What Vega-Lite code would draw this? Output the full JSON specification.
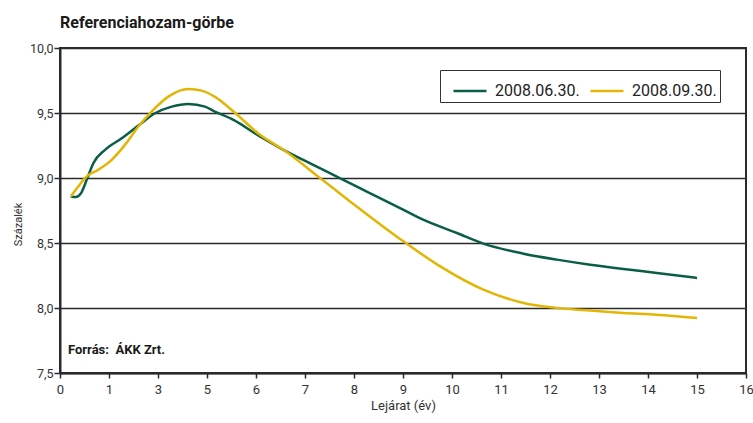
{
  "$schema": "https://vega.github.io/schema/vega-lite/v6.json",
  "width": 686,
  "height": 325,
  "autosize": {"type": "none"},
  "padding": {"left": 60, "top": 48, "right": 7, "bottom": 50},
  "background": "white",
  "config": {
    "font": "Roboto",
    "view": {"stroke": "#2b2b2b", "strokeWidth": 2}
  },
  "title": {
    "text": "Referenciahozam-görbe",
    "anchor": "start",
    "frame": "group",
    "font": "Roboto",
    "fontSize": 16,
    "fontWeight": "bold",
    "color": "#1a1a1a",
    "baseline": "alphabetic",
    "offset": -2
  },
  "layer": [
    {
      "data": {
        "values": [
          {"date": "2008.06.30.", "ev": 0.22, "hozam": 8.858},
          {"date": "2008.06.30.", "ev": 0.32, "hozam": 8.853},
          {"date": "2008.06.30.", "ev": 0.43, "hozam": 8.884},
          {"date": "2008.06.30.", "ev": 0.545, "hozam": 8.986},
          {"date": "2008.06.30.", "ev": 0.68, "hozam": 9.114},
          {"date": "2008.06.30.", "ev": 0.92, "hozam": 9.217},
          {"date": "2008.06.30.", "ev": 1.52, "hozam": 9.306},
          {"date": "2008.06.30.", "ev": 2.2, "hozam": 9.403},
          {"date": "2008.06.30.", "ev": 2.88, "hozam": 9.498},
          {"date": "2008.06.30.", "ev": 3.56, "hozam": 9.549},
          {"date": "2008.06.30.", "ev": 4.24, "hozam": 9.57},
          {"date": "2008.06.30.", "ev": 4.92, "hozam": 9.549},
          {"date": "2008.06.30.", "ev": 5.16, "hozam": 9.511},
          {"date": "2008.06.30.", "ev": 5.54, "hozam": 9.447},
          {"date": "2008.06.30.", "ev": 6.08, "hozam": 9.319},
          {"date": "2008.06.30.", "ev": 6.56, "hozam": 9.217},
          {"date": "2008.06.30.", "ev": 7.24, "hozam": 9.088},
          {"date": "2008.06.30.", "ev": 7.71, "hozam": 8.999},
          {"date": "2008.06.30.", "ev": 8.26, "hozam": 8.896},
          {"date": "2008.06.30.", "ev": 8.94, "hozam": 8.769},
          {"date": "2008.06.30.", "ev": 9.41, "hozam": 8.679},
          {"date": "2008.06.30.", "ev": 10.1, "hozam": 8.577},
          {"date": "2008.06.30.", "ev": 10.64, "hozam": 8.495},
          {"date": "2008.06.30.", "ev": 11.46, "hozam": 8.418},
          {"date": "2008.06.30.", "ev": 12.14, "hozam": 8.372},
          {"date": "2008.06.30.", "ev": 12.82, "hozam": 8.333},
          {"date": "2008.06.30.", "ev": 13.5, "hozam": 8.3},
          {"date": "2008.06.30.", "ev": 14.18, "hozam": 8.27},
          {"date": "2008.06.30.", "ev": 15.0, "hozam": 8.231},
          {"date": "2008.09.30.", "ev": 0.22, "hozam": 8.858},
          {"date": "2008.09.30.", "ev": 0.373, "hozam": 8.935},
          {"date": "2008.09.30.", "ev": 0.545, "hozam": 9.012},
          {"date": "2008.09.30.", "ev": 0.78, "hozam": 9.063},
          {"date": "2008.09.30.", "ev": 1.11, "hozam": 9.14},
          {"date": "2008.09.30.", "ev": 1.65, "hozam": 9.255},
          {"date": "2008.09.30.", "ev": 2.2, "hozam": 9.396},
          {"date": "2008.09.30.", "ev": 2.74, "hozam": 9.511},
          {"date": "2008.09.30.", "ev": 3.42, "hozam": 9.626},
          {"date": "2008.09.30.", "ev": 4.24, "hozam": 9.685},
          {"date": "2008.09.30.", "ev": 4.78, "hozam": 9.672},
          {"date": "2008.09.30.", "ev": 5.18, "hozam": 9.62},
          {"date": "2008.09.30.", "ev": 5.54, "hozam": 9.511},
          {"date": "2008.09.30.", "ev": 6.08, "hozam": 9.332},
          {"date": "2008.09.30.", "ev": 6.56, "hozam": 9.217},
          {"date": "2008.09.30.", "ev": 7.31, "hozam": 8.999},
          {"date": "2008.09.30.", "ev": 7.92, "hozam": 8.82},
          {"date": "2008.09.30.", "ev": 8.94, "hozam": 8.531},
          {"date": "2008.09.30.", "ev": 9.76, "hozam": 8.32},
          {"date": "2008.09.30.", "ev": 10.64, "hozam": 8.141},
          {"date": "2008.09.30.", "ev": 11.46, "hozam": 8.039},
          {"date": "2008.09.30.", "ev": 12.14, "hozam": 8.001},
          {"date": "2008.09.30.", "ev": 12.82, "hozam": 7.98},
          {"date": "2008.09.30.", "ev": 13.5, "hozam": 7.962},
          {"date": "2008.09.30.", "ev": 14.18, "hozam": 7.949},
          {"date": "2008.09.30.", "ev": 15.0, "hozam": 7.924}
        ]
      },
      "mark": {"type": "line", "interpolate": "monotone", "strokeWidth": 2.5},
      "encoding": {
        "x": {
          "field": "ev",
          "type": "quantitative",
          "title": "Lejárat (év)",
          "scale": {
            "domain": [0, 1, 3, 5, 6, 7, 8, 9, 10, 11, 12, 13, 14, 15, 16],
            "range": [0, 49, 98, 147, 196, 245, 294, 343, 392, 441, 490, 539, 588, 637, 686],
            "zero": false,
            "nice": false
          },
          "axis": {
            "values": [0, 1, 3, 5, 6, 7, 8, 9, 10, 11, 12, 13, 14, 15, 16],
            "grid": false,
            "domainColor": "#2b2b2b",
            "domainWidth": 2,
            "tickColor": "#2b2b2b",
            "tickWidth": 1.5,
            "tickSize": 5,
            "labelFontSize": 13,
            "labelColor": "#333333",
            "labelPadding": 5,
            "labelFlush": false,
            "labelOverlap": false,
            "titleFontSize": 13,
            "titleFontWeight": "normal",
            "titleColor": "#333333",
            "titlePadding": 3
          }
        },
        "y": {
          "field": "hozam",
          "type": "quantitative",
          "title": "Százalék",
          "scale": {"domain": [7.5, 10], "zero": false, "nice": false},
          "axis": {
            "values": [7.5, 8, 8.5, 9, 9.5, 10],
            "labelExpr": "replace(format(datum.value, '.1f'), '.', ',')",
            "grid": true,
            "gridColor": "#2b2b2b",
            "gridWidth": 1.5,
            "domainColor": "#2b2b2b",
            "domainWidth": 2,
            "tickColor": "#2b2b2b",
            "tickWidth": 1.5,
            "tickSize": 6,
            "labelFontSize": 12.5,
            "labelColor": "#333333",
            "labelPadding": 1,
            "titleFontSize": 11,
            "titleFontWeight": "normal",
            "titleColor": "#333333",
            "titlePadding": 6,
            "titleY": 176
          }
        },
        "color": {
          "field": "date",
          "type": "nominal",
          "scale": {"domain": ["2008.06.30.", "2008.09.30."], "range": ["#0b5e46", "#e3b505"]},
          "legend": {
            "title": null,
            "orient": "none",
            "legendX": 380,
            "legendY": 22,
            "direction": "horizontal",
            "columns": 2,
            "fillColor": "white",
            "strokeColor": "#333333",
            "padding": 3,
            "symbolType": "stroke",
            "symbolSize": 1089,
            "symbolStrokeWidth": 2.5,
            "symbolOffset": 9,
            "labelFontSize": 16,
            "labelColor": "#222222",
            "labelOffset": 7,
            "columnPadding": 0
          }
        }
      }
    },
    {
      "data": {"values": [{"forras": "Forrás:\u00a0 ÁKK Zrt."}]},
      "mark": {"type": "text", "align": "left", "baseline": "alphabetic", "dx": 8, "fontSize": 13, "fontWeight": "bold", "fill": "#1a1a1a"},
      "encoding": {
        "text": {"field": "forras"},
        "x": {"datum": 0},
        "y": {"datum": 7.65}
      }
    }
  ]
}
